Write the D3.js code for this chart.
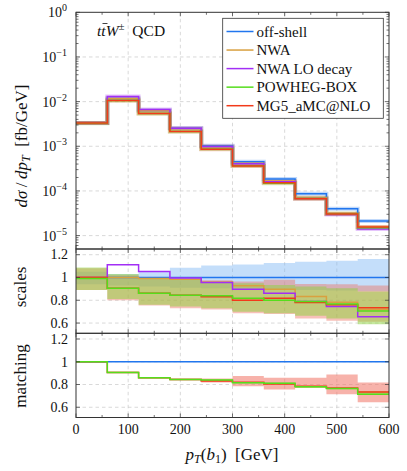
<!DOCTYPE html>
<html>
<head>
<meta charset="utf-8">
<script src="https://cdn.jsdelivr.net/npm/d3@7"></script>
<style>
  body { margin: 0; background: #fff; }
  text { font-family: "Liberation Serif", "DejaVu Serif", serif; fill: #111; }
</style>
</head>
<body>
<div id="graph"></div>
<script>

// histogram bins in GeV
var binEdges = [0, 60, 120, 180, 240, 300, 360, 420, 480, 540, 600];

// d sigma / d pT  [fb/GeV]
var offShell = [3.3e-3, 1.17e-2, 6.3e-3, 2.55e-3, 1.03e-3, 4.5e-4, 1.86e-4, 8.6e-5, 4.0e-5, 2.13e-5];
var nwa      = [3.32e-3, 1.18e-2, 6.24e-3, 2.51e-3, 9.9e-4, 4.17e-4, 1.67e-4, 7.16e-5, 3.13e-5, 1.53e-5];
var nwaLO    = [3.3e-3, 1.3e-2, 6.63e-3, 2.54e-3, 9.85e-4, 4.04e-4, 1.6e-4, 6.8e-5, 2.98e-5, 1.4e-5];
var powheg   = [3.27e-3, 1.06e-2, 5.43e-3, 2.15e-3, 8.65e-4, 3.68e-4, 1.49e-4, 6.8e-5, 3.07e-5, 1.5e-5];
var mg5      = [3.3e-3, 1.06e-2, 5.43e-3, 2.15e-3, 8.55e-4, 3.6e-4, 1.52e-4, 6.7e-5, 3.04e-5, 1.56e-5];

// "scales" ratio panel (ratio to off-shell)
var sclOffShell = [1, 1, 1, 1, 1, 1, 1, 1, 1, 1];
var sclNwa      = [1.005, 1.0, 0.99, 0.985, 0.96, 0.927, 0.897, 0.833, 0.783, 0.72];
var sclNwaLO    = [1.0, 1.112, 1.053, 0.995, 0.956, 0.897, 0.862, 0.79, 0.745, 0.655];
var sclPowheg   = [0.99, 0.905, 0.862, 0.843, 0.84, 0.818, 0.80, 0.79, 0.768, 0.705];
var sclMg5      = [1.0, 0.905, 0.862, 0.845, 0.83, 0.80, 0.818, 0.78, 0.76, 0.735];
var offShellSclLo = [0.94, 0.93, 0.92, 0.91, 0.905, 0.90, 0.895, 0.89, 0.885, 0.88];
var offShellSclHi = [1.05, 1.03, 1.05, 1.085, 1.105, 1.115, 1.127, 1.138, 1.147, 1.162];
var mg5SclLo    = [0.89, 0.80, 0.753, 0.73, 0.72, 0.686, 0.68, 0.639, 0.621, 0.612];
var mg5SclHi    = [1.08, 1.02, 0.99, 0.98, 0.975, 0.965, 0.98, 0.942, 0.94, 0.93];
var powhegSclLo = [0.89, 0.81, 0.76, 0.745, 0.73, 0.70, 0.686, 0.663, 0.64, 0.59];
var powhegSclHi = [1.088, 1.03, 0.995, 0.98, 0.96, 0.95, 0.935, 0.92, 0.906, 0.877];

// "matching" ratio panel
var matOffShell = [1, 1, 1, 1, 1, 1, 1, 1, 1, 1];
var matPowheg   = [1.0, 0.906, 0.86, 0.845, 0.84, 0.815, 0.81, 0.78, 0.765, 0.715];
var matMg5      = [1.0, 0.906, 0.86, 0.845, 0.83, 0.82, 0.805, 0.785, 0.77, 0.735];
var mg5MatLo    = [0.995, 0.9, 0.855, 0.838, 0.818, 0.785, 0.757, 0.77, 0.715, 0.645];
var mg5MatHi    = [1.005, 0.912, 0.865, 0.852, 0.853, 0.874, 0.86, 0.86, 0.889, 0.818];
var powhegMatLo = [0.995, 0.9, 0.854, 0.839, 0.834, 0.808, 0.803, 0.772, 0.758, 0.71];
var powhegMatHi = [1.005, 0.912, 0.866, 0.851, 0.846, 0.822, 0.817, 0.788, 0.772, 0.74];

var xTicks = [0, 100, 200, 300, 400, 500, 600];
var xMinor = [50, 150, 250, 350, 450, 550];
var logTicks = [1, 1e-1, 1e-2, 1e-3, 1e-4, 1e-5];
var logTickExp = ["0", "\u22121", "\u22122", "\u22123", "\u22124", "\u22125"];
var ratioTicks = [0.6, 0.8, 1, 1.2];
var ratioLabels = ["0.6", "0.8", "1", "1.2"];

var legendNames = ["off-shell", "NWA", "NWA LO decay", "POWHEG-BOX", "MG5_aMC@NLO"];
var col = {off: "#2176ee", nwa: "#d9a03f", lo: "#a22ef5", pw: "#55dd1c", mg: "#f23a1a"};
var legendColors = [col.off, col.nwa, col.lo, col.pw, col.mg];

var svg = d3.select("#graph").append("svg")
  .attr("width", 407).attr("height", 471);

var x = d3.scaleLinear().domain([0, 600]).range([76, 389]);
var yTop = d3.scaleLog().domain([Math.pow(10, -5.3), 1]).range([249, 12.3]);
var yScl = d3.scaleLinear().domain([0.51, 1.25]).range([333.3, 249]);
var yMat = d3.scaleLinear().domain([0.51, 1.25]).range([417.5, 333.3]);

var panels = [
  {id: "top", y: yTop, t: 12.3, b: 249},
  {id: "scl", y: yScl, t: 249, b: 333.3},
  {id: "mat", y: yMat, t: 333.3, b: 417.5}
];

var defs = svg.append("defs");
panels.forEach(function(p) {
  defs.append("clipPath").attr("id", "clip-" + p.id)
    .append("rect").attr("x", x(0)).attr("y", p.t)
    .attr("width", x(600) - x(0)).attr("height", p.b - p.t);
});

function stepLine(y) {
  return d3.line()
    .x(function(d) { return x(d[0]); })
    .y(function(d) { return y(d[1]); })
    .curve(d3.curveStepAfter);
}
function pts(vals) {
  return binEdges.map(function(e, i) { return [e, vals[Math.min(i, vals.length - 1)]]; });
}
function bandPath(y, lo, hi) {
  var d = binEdges.map(function(e, i) { var k = Math.min(i, lo.length - 1); return [e, lo[k], hi[k]]; });
  return d3.area()
    .x(function(d) { return x(d[0]); })
    .y0(function(d) { return y(d[1]); })
    .y1(function(d) { return y(d[2]); })
    .curve(d3.curveStepAfter)(d);
}

// grid
panels.forEach(function(p) {
  var g = svg.append("g").attr("stroke", "#c8c8c8").attr("stroke-width", 0.7)
    .attr("stroke-dasharray", "3.5,3");
  xTicks.slice(1, -1).forEach(function(v) {
    g.append("line").attr("x1", x(v)).attr("x2", x(v)).attr("y1", p.t).attr("y2", p.b);
  });
  var yt = p.id == "top" ? logTicks.slice(1) : ratioTicks;
  yt.forEach(function(v) {
    g.append("line").attr("x1", x(0)).attr("x2", x(600)).attr("y1", p.y(v)).attr("y2", p.y(v));
  });
});

// top panel: histograms
var gTop = svg.append("g").attr("clip-path", "url(#clip-top)");
[[offShell, col.off], [nwa, col.nwa], [nwaLO, col.lo], [powheg, col.pw], [mg5, col.mg]].forEach(function(s) {
  gTop.append("path").attr("d", stepLine(yTop)(pts(s[0])))
    .attr("fill", "none").attr("stroke", s[1]).attr("stroke-width", 4).attr("stroke-opacity", 0.28);
});
[[offShell, col.off], [nwa, col.nwa], [nwaLO, col.lo], [powheg, col.pw], [mg5, col.mg]].forEach(function(s) {
  gTop.append("path").attr("d", stepLine(yTop)(pts(s[0])))
    .attr("fill", "none").attr("stroke", s[1]).attr("stroke-width", 1.5);
});

// scales panel
var gScl = svg.append("g").attr("clip-path", "url(#clip-scl)");
gScl.append("path").attr("d", bandPath(yScl, offShellSclLo, offShellSclHi))
  .attr("fill", "rgb(125,182,245)").attr("fill-opacity", 0.45);
gScl.append("path").attr("d", bandPath(yScl, mg5SclLo, mg5SclHi))
  .attr("fill", "rgb(238,115,100)").attr("fill-opacity", 0.45);
gScl.append("path").attr("d", bandPath(yScl, powhegSclLo, powhegSclHi))
  .attr("fill", "rgb(140,210,60)").attr("fill-opacity", 0.5);
[[sclOffShell, col.off], [sclNwa, col.nwa], [sclNwaLO, col.lo], [sclMg5, col.mg], [sclPowheg, col.pw]].forEach(function(s) {
  gScl.append("path").attr("d", stepLine(yScl)(pts(s[0])))
    .attr("fill", "none").attr("stroke", s[1]).attr("stroke-width", 1.5);
});

// matching panel
var gMat = svg.append("g").attr("clip-path", "url(#clip-mat)");
gMat.append("path").attr("d", bandPath(yMat, mg5MatLo, mg5MatHi))
  .attr("fill", "rgb(240,115,100)").attr("fill-opacity", 0.55);
gMat.append("path").attr("d", bandPath(yMat, powhegMatLo, powhegMatHi))
  .attr("fill", "rgb(140,210,60)").attr("fill-opacity", 0.5);
[[matOffShell, col.off], [matMg5, col.mg], [matPowheg, col.pw]].forEach(function(s) {
  gMat.append("path").attr("d", stepLine(yMat)(pts(s[0])))
    .attr("fill", "none").attr("stroke", s[1]).attr("stroke-width", 1.5);
});

// ticks and frames
panels.forEach(function(p) {
  var g = svg.append("g").attr("stroke", "#333").attr("stroke-width", 0.7);
  xTicks.forEach(function(v) {
    g.append("line").attr("x1", x(v)).attr("x2", x(v)).attr("y1", p.b).attr("y2", p.b - 4);
    g.append("line").attr("x1", x(v)).attr("x2", x(v)).attr("y1", p.t).attr("y2", p.t + 4);
  });
  xMinor.forEach(function(v) {
    g.append("line").attr("x1", x(v)).attr("x2", x(v)).attr("y1", p.b).attr("y2", p.b - 2.5);
    g.append("line").attr("x1", x(v)).attr("x2", x(v)).attr("y1", p.t).attr("y2", p.t + 2.5);
  });
  var yt = p.id == "top" ? logTicks : ratioTicks;
  yt.forEach(function(v) {
    g.append("line").attr("x1", x(0)).attr("x2", x(0) + 4).attr("y1", p.y(v)).attr("y2", p.y(v));
    g.append("line").attr("x1", x(600)).attr("x2", x(600) - 4).attr("y1", p.y(v)).attr("y2", p.y(v));
  });
  if (p.id == "top") {
    for (var k = -6; k < 0; k++) {
      for (var m = 2; m <= 9; m++) {
        var v = m * Math.pow(10, k);
        if (v < yTop.domain()[0]) continue;
        g.append("line").attr("x1", x(0)).attr("x2", x(0) + 2.5).attr("y1", yTop(v)).attr("y2", yTop(v));
        g.append("line").attr("x1", x(600)).attr("x2", x(600) - 2.5).attr("y1", yTop(v)).attr("y2", yTop(v));
      }
    }
  }
  svg.append("rect").attr("x", x(0)).attr("y", p.t)
    .attr("width", x(600) - x(0)).attr("height", p.b - p.t)
    .attr("fill", "none").attr("stroke", "#333").attr("stroke-width", 1);
});

// tick labels
xTicks.forEach(function(v) {
  svg.append("text").attr("x", x(v)).attr("y", 434).attr("text-anchor", "middle")
    .style("font-size", "14px").text(v);
});
logTicks.forEach(function(v, i) {
  var t = svg.append("text").attr("x", 67).attr("y", yTop(v) + 5).attr("text-anchor", "end")
    .style("font-size", "14px");
  t.append("tspan").text("10");
  t.append("tspan").attr("dy", -6).style("font-size", "10px").text(logTickExp[i]);
});
[yScl, yMat].forEach(function(y) {
  ratioTicks.forEach(function(v, i) {
    svg.append("text").attr("x", 68).attr("y", y(v) + 4.8).attr("text-anchor", "end")
      .style("font-size", "14px").text(ratioLabels[i]);
  });
});

// axis titles
var yl = svg.append("text").attr("transform", "translate(27,146) rotate(-90)")
  .attr("text-anchor", "middle").style("font-size", "17px");
yl.append("tspan").style("font-style", "italic").text("d\u03c3");
yl.append("tspan").text("\u2009/\u2009");
yl.append("tspan").style("font-style", "italic").text("dp");
yl.append("tspan").attr("dy", 3).style("font-size", "12px").style("font-style", "italic").text("T");
yl.append("tspan").attr("dy", -3).text("\u2002[fb/GeV]");

svg.append("text").attr("transform", "translate(26,287) rotate(-90)")
  .attr("text-anchor", "middle").style("font-size", "17px").text("scales");
svg.append("text").attr("transform", "translate(26,376) rotate(-90)")
  .attr("text-anchor", "middle").style("font-size", "17px").text("matching");

var xl = svg.append("text").attr("x", 232).attr("y", 460).attr("text-anchor", "middle")
  .style("font-size", "17px");
xl.append("tspan").style("font-style", "italic").text("p");
xl.append("tspan").attr("dy", 3).style("font-size", "12px").style("font-style", "italic").text("T");
xl.append("tspan").attr("dy", -3).text("(");
xl.append("tspan").style("font-style", "italic").text("b");
xl.append("tspan").attr("dy", 3).style("font-size", "12px").text("1");
xl.append("tspan").attr("dy", -3).text(")\u2002[GeV]");

// process label
var tl = svg.append("text").attr("x", 97).attr("y", 36).style("font-size", "15.5px");
tl.append("tspan").style("font-style", "italic").text("t");
tl.append("tspan").style("font-style", "italic").text("t");
tl.append("tspan").style("font-style", "italic").text("W");
tl.append("tspan").attr("dy", -6).style("font-size", "11px").text("\u00b1");
tl.append("tspan").attr("dy", 6).text("\u2002QCD");
svg.append("line").attr("x1", 102.5).attr("x2", 107.5).attr("y1", 23.5).attr("y2", 23.5)
  .attr("stroke", "#111").attr("stroke-width", 0.8);

// legend
var lg = svg.append("g");
lg.append("rect").attr("x", 222.7).attr("y", 18.3).attr("width", 160.6).attr("height", 100)
  .attr("fill", "#fff").attr("stroke", "#333").attr("stroke-width", 0.8);
legendNames.forEach(function(n, i) {
  var yy = 31.5 + i * 18.55;
  lg.append("line").attr("x1", 226.5).attr("x2", 253.5).attr("y1", yy).attr("y2", yy)
    .attr("stroke", legendColors[i]).attr("stroke-width", 1.5);
  lg.append("text").attr("x", 256.5).attr("y", yy + 5).style("font-size", "15px").text(n);
});

</script>
</body>
</html>
